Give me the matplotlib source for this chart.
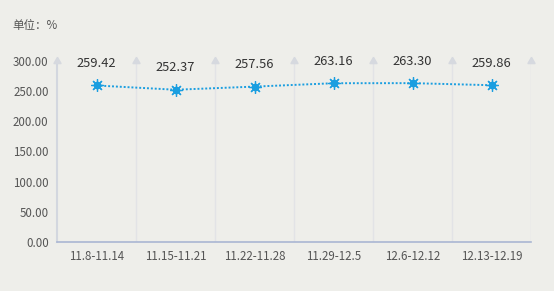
import matplotlib.pyplot as plt
from matplotlib.ticker import FormatStrFormatter

plt.rcParams['font.family'] = ['Noto Sans CJK SC', 'DejaVu Sans']

weeks = ["11.8-11.14", "11.15-11.21", "11.22-11.28", "11.29-12.5", "12.6-12.12", "12.13-12.19"]
values = [259.42, 252.37, 257.56, 263.16, 263.30, 259.86]
yticks = [0, 50, 100, 150, 200, 250, 300]

bg = "#eeeeea"
blue = "#1a9ee0"

fig = plt.figure(figsize=(5.54, 2.91), dpi=100, facecolor=bg)
ax = fig.add_axes([57 / 554, (291 - 242) / 291, (531 - 57) / 554, (242 - 61) / 291])
ax.set_facecolor(bg)

n = len(weeks)
x = [i + 0.5 for i in range(n)]
ax.set_xlim(0, n)
ax.set_ylim(0, 300)

# category separators with small arrow heads at top
for b in range(n + 1):
    if b > 0:
        ax.axvline(b, color="#e2e3e6", lw=1, zorder=1)
    ax.plot(b, 300, marker=(3, 0, 0), ms=6, color="#d6d9df", clip_on=False, zorder=2)
ax.plot([0, 0], [0, 300], color="#d3d7df", lw=1.5, clip_on=False, zorder=1)

ax.plot(x, values, color=blue, lw=1.4, ls=(0, (1, 1)), zorder=3)
ax.plot(x, values, ls="none", marker=(8, 2, 0), ms=9, mec=blue, mew=0.9, zorder=4)
ax.plot(x, values, ls="none", marker="o", ms=4.5, mfc=blue, mec=blue, zorder=5)

for xi, v in zip(x, values):
    ax.annotate(f"{v:.2f}", (xi, v), xytext=(0, 11), textcoords="offset points",
                ha="center", va="bottom", fontsize=9.3, color="#333333")

ax.set_xticks(x)
ax.set_xticklabels(weeks)
ax.set_yticks(yticks)
ax.yaxis.set_major_formatter(FormatStrFormatter("%.2f"))
ax.tick_params(axis="both", length=0, labelsize=8.3, colors="#555555")
ax.tick_params(axis="x", pad=6)
ax.tick_params(axis="y", pad=6)

for s in ["top", "right", "left"]:
    ax.spines[s].set_visible(False)
ax.spines["bottom"].set_color("#aab6d3")
ax.spines["bottom"].set_linewidth(1.2)

fig.text(12 / 554, 1 - 25 / 291, "单位：%", fontsize=8.3, color="#555555", va="center", ha="left")

fig.savefig("out.png", dpi=100, facecolor=bg)
